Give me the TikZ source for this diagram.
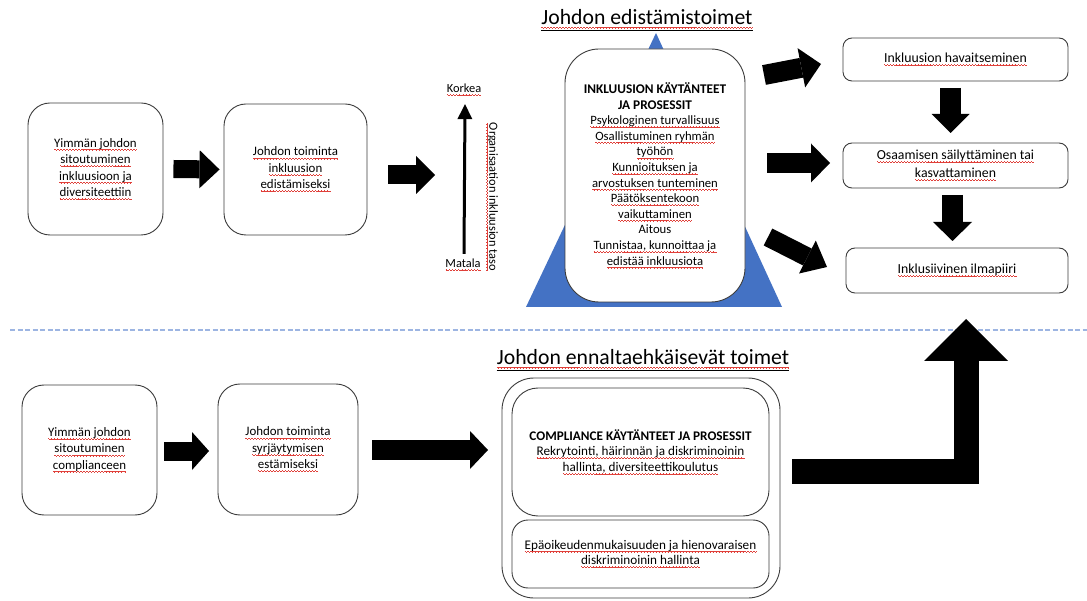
\documentclass[tikz,border=0pt]{standalone}
\usepackage{fontspec}
\setmainfont{Carlito}
\usetikzlibrary{arrows.meta}

\definecolor{edge}{HTML}{3C3C3C}
\definecolor{pyramid}{HTML}{4472C4}
\definecolor{divider}{HTML}{9DB5E2}
\definecolor{spell}{HTML}{E0403A}

% red wavy underline (spell-check style), built from tiny rules
\newcommand\squnit{\hbox{{\color{spell}%
  \rule[-2.3pt]{0.75pt}{0.6pt}\rule[-2.8pt]{0.75pt}{0.6pt}%
  \rule[-3.3pt]{0.75pt}{0.6pt}\rule[-2.8pt]{0.75pt}{0.6pt}}}}
\newcommand\sq[1]{\leavevmode\setbox0=\hbox{#1}%
  \hbox{\rlap{\copy0}\xleaders\squnit\hskip\wd0\relax}}

% type sizes
\newcommand\szA{\fontsize{12.9}{16.4}\selectfont}
\newcommand\szC{\fontsize{12.7}{15.6}\selectfont}
\newcommand\szCb{\fontsize{13.3}{14.5}\selectfont\bfseries}
\newcommand\szR{\fontsize{13.8}{18}\selectfont}
\newcommand\szP{\fontsize{13.2}{15.6}\selectfont}
\newcommand\szL{\fontsize{12.4}{15}\selectfont}
\newcommand\szT{\fontsize{21.7}{24}\selectfont}

\tikzset{
  box/.style={draw=edge, line width=0.9pt, rounded corners=#1, fill=white,
    align=center, inner sep=0pt},
  box/.default=22pt,
  label/.style={inner sep=0pt, font=\szL, align=center},
  title/.style={inner sep=0pt, font=\szT, anchor=base},
  barrow/.style n args={3}{draw=black, line width=#1pt, line join=miter,
    -{Triangle[width=#2pt, length=#3pt, line width=0pt]}},
}

\begin{document}
\begin{tikzpicture}[x=1pt, y=-1pt]
\useasboundingbox (0,0) rectangle (1087,601);
\fill[white] (0,0) rectangle (1087,601);

% ---------- upper half: promoting inclusion ----------
\node[box, font=\szA, minimum width=135pt, minimum height=132pt] (A1) at (95.5,169)
  {\sq{Yimmän johdon}\\\sq{sitoutuminen}\\\sq{inkluusioon ja}\\\sq{diversiteettiin}};
\node[box, font=\szA, minimum width=143pt, minimum height=131pt] (A2) at (295.5,169.5)
  {\sq{Johdon toiminta}\\\sq{inkluusion}\\\sq{edistämiseksi}};

\draw[barrow={18}{38}{20}] ([xshift=10pt]A1.east) -- ([xshift=-4pt]A2.west);
\coordinate (a2s) at (388,175);
\coordinate (a2e) at (435,175);
\draw[barrow={19}{38}{19}] (a2s) -- (a2e);

% level scale
\node[label] (hi) at (464,90) {\sq{Korkea}};
\node[label] (lo) at (463,265) {\sq{Matala}};
\draw[line width=3pt, -{Triangle[width=15pt, length=15pt, line width=0pt]}]
  ([xshift=1pt, yshift=5pt]lo.north) -- ([xshift=1pt, yshift=-8pt]hi.south);
\node[label, rotate=-90] (scale) at (492,197) {\sq{Organisaation inkluusion taso}};

% pyramid behind the practices box
\fill[pyramid] (526,307) -- (782,307) -- (656,33) -- cycle;
\node[box=34pt, font=\szC, minimum width=180pt, minimum height=253pt] (C) at (655,175.5)
  {{\szCb INKLUUSION KÄYTÄNTEET}\\{\szCb JA PROSESSIT}\\
   \sq{Psykologinen turvallisuus}\\\sq{Osallistuminen ryhmän}\\\sq{työhön}\\
   \sq{Kunnioituksen ja}\\\sq{arvostuksen tunteminen}\\\sq{Päätöksentekoon}\\
   \sq{vaikuttaminen}\\Aitous\\\sq{Tunnistaa, kunnoittaa ja}\\\sq{edistää inkluusiota}};

\node[title] (T1) at (647,25) {\sq{Johdon edistämistoimet}};
\draw[line width=1pt] ([yshift=-6pt]T1.base west) -- ([yshift=-6pt]T1.base east);

% outcomes
\node[box=9pt, font=\szR, minimum width=225pt, minimum height=43pt] (R1) at (955.5,59.5)
  {\sq{Inkluusion havaitseminen}};
\node[box=9pt, font=\szR, minimum width=225pt, minimum height=45pt] (R2) at (955.5,165.5)
  {\sq{Osaamisen säilyttäminen tai}\\\sq{kasvattaminen}};
\node[box=9pt, font=\szR, minimum width=222pt, minimum height=45pt] (R3) at (957,270.5)
  {\sq{Inklusiivinen ilmapiiri}};

\coordinate (o1s) at (764,75);  \coordinate (o1e) at (821,64);
\coordinate (o2s) at (767,163); \coordinate (o2e) at (830,163);
\coordinate (o3s) at (768,237); \coordinate (o3e) at (827,267);
\draw[barrow={20}{40}{20}] (o1s) -- (o1e);
\draw[barrow={20}{39}{19}] (o2s) -- (o2e);
\draw[barrow={19}{37}{22}] (o3s) -- (o3e);

\coordinate (d1s) at (950.5,88);  \coordinate (d1e) at (950.5,133);
\coordinate (d2s) at (952.5,195); \coordinate (d2e) at (952.5,241);
\draw[barrow={21}{38}{19}] (d1s) -- (d1e);
\draw[barrow={21}{39}{19}] (d2s) -- (d2e);

% divider
\draw[divider, line width=1.4pt, dash pattern=on 5pt off 2.5pt] (10,330) -- (1087,330);

% ---------- lower half: preventive actions ----------
\node[box, font=\szA, minimum width=135pt, minimum height=130pt] (B1) at (89.5,450)
  {\sq{Yimmän johdon}\\\sq{sitoutuminen}\\\sq{complianceen}};
\node[box, font=\szA, minimum width=140pt, minimum height=131pt] (B2) at (288,449.5)
  {\sq{Johdon toiminta}\\\sq{syrjäytymisen}\\\sq{estämiseksi}};

\coordinate (b1s) at (164,451); \coordinate (b1e) at (209,451);
\draw[barrow={19}{38}{17}] (b1s) -- (b1e);
\coordinate (b2s) at (372,450); \coordinate (b2e) at (488,450);
\draw[barrow={20}{38}{18}] (b2s) -- (b2e);

\node[title] (T2) at (643,365) {\sq{Johdon ennaltaehkäisevät toimet}};
\draw[line width=1pt] ([yshift=-6pt]T2.base west) -- ([yshift=-6pt]T2.base east);

\node[box=32pt, minimum width=278pt, minimum height=220pt] (P) at (641,488) {};
\node[box=26pt, font=\szP, minimum width=257pt, minimum height=128pt] (P1) at (640.5,452)
  {\textbf{COMPLIANCE KÄYTÄNTEET JA PROSESSIT}\\
   \sq{Rekrytointi, häirinnän ja diskriminoinin}\\\sq{hallinta, diversiteettikoulutus}};
\node[box=16pt, font=\szP, minimum width=257pt, minimum height=68pt] (P2) at (640.5,554)
  {\sq{Epäoikeudenmukaisuuden ja hienovaraisen}\\\sq{diskriminoinin hallinta}};

% bent arrow up to the climate box
\coordinate (Ls) at (792,471.5);
\coordinate (Lc) at (966,471.5);
\coordinate (Le) at (966,319);
\draw[barrow={25}{84}{42}] (Ls) -- (Lc) -- (Le);

\end{tikzpicture}
\end{document}
